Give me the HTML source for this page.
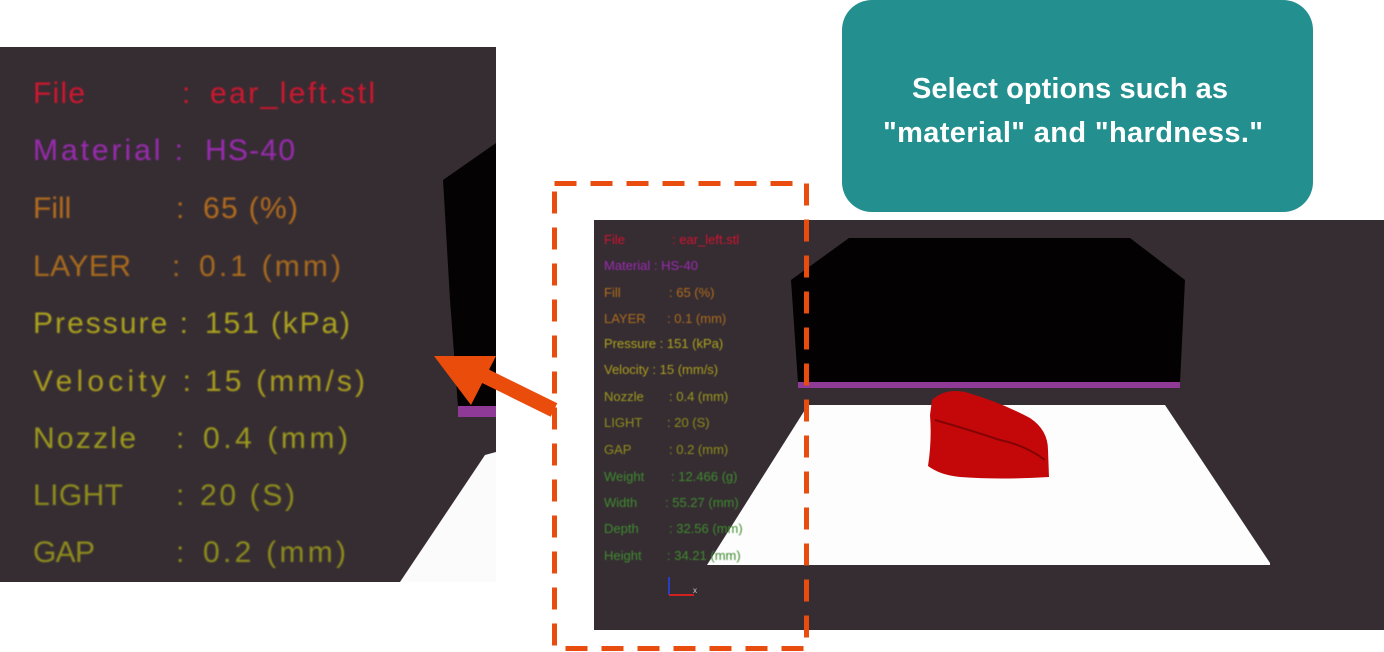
<!DOCTYPE html>
<html><head><meta charset="utf-8"><style>
html,body{margin:0;padding:0;background:#fff;width:1384px;height:652px;overflow:hidden}
svg{display:block}
</style></head><body>
<svg width="1384" height="652" viewBox="0 0 1384 652" xmlns="http://www.w3.org/2000/svg">
<defs><filter id="b" x="-5%" y="-20%" width="110%" height="140%"><feGaussianBlur stdDeviation="0.9"/></filter>
<filter id="b2" x="-5%" y="-20%" width="110%" height="140%"><feGaussianBlur stdDeviation="0.5"/></filter></defs>
<rect x="0" y="47" width="496" height="535" fill="#362d33"/>
<polygon points="443,180 496,143 496,407 458,407 450,300" fill="#050203"/>
<rect x="458" y="406" width="38" height="11" fill="#8f3a96"/>
<polygon points="400,582 485,455 496,452 496,582" fill="#fbfbfb"/>
<g font-family="Liberation Sans, sans-serif" font-size="30" filter="url(#b)">
<text x="33" y="103" fill="#d0142e" textLength="52">File</text><text x="182" y="103" fill="#d0142e">:</text><text x="210" y="103" fill="#d0142e" textLength="165">ear_left.stl</text>
<text x="33" y="160" fill="#9a2cb0" textLength="150">Material :</text><text x="205" y="160" fill="#9a2cb0" textLength="90">HS-40</text>
<text x="33" y="218" fill="#b26c1c">Fill</text><text x="176" y="218" fill="#b26c1c">:</text><text x="203" y="218" fill="#b26c1c" textLength="95">65 (%)</text>
<text x="33" y="276" fill="#a96a1e" textLength="98">LAYER</text><text x="172" y="276" fill="#a96a1e">:</text><text x="199" y="276" fill="#a96a1e" textLength="142">0.1 (mm)</text>
<text x="33" y="333" fill="#aba21e" textLength="155">Pressure :</text><text x="205" y="333" fill="#aba21e" textLength="145">151 (kPa)</text>
<text x="33" y="391" fill="#a99c1e" textLength="158">Velocity :</text><text x="205" y="391" fill="#a99c1e" textLength="160">15 (mm/s)</text>
<text x="33" y="448" fill="#9c9a1c" textLength="103">Nozzle</text><text x="176" y="448" fill="#9c9a1c">:</text><text x="203" y="448" fill="#9c9a1c" textLength="145">0.4 (mm)</text>
<text x="33" y="505" fill="#8e8c1a" textLength="90">LIGHT</text><text x="176" y="505" fill="#8e8c1a">:</text><text x="200" y="505" fill="#8e8c1a" textLength="95">20 (S)</text>
<text x="33" y="562" fill="#8e8c1a" textLength="62">GAP</text><text x="176" y="562" fill="#8e8c1a">:</text><text x="203" y="562" fill="#8e8c1a" textLength="143">0.2 (mm)</text>
</g>
<rect x="842" y="0" width="471" height="212" rx="30" fill="#238f8e"/>
<g font-family="Liberation Sans, sans-serif" font-size="29" font-weight="bold" fill="#fff" text-anchor="middle">
<text x="1070" y="98" textLength="316">Select options such as</text>
<text x="1073" y="142" textLength="380">"material" and "hardness."</text>
</g>
<rect x="594" y="220" width="790" height="410" fill="#362d33"/>
<polygon points="791,280 849,238 1130,238 1185,280 1180,383 798,383" fill="#030102"/>
<rect x="798" y="382" width="382" height="6" fill="#8f3a96"/>
<polygon points="808,405 1165,405 1270,563 1270,565 707,565" fill="#fdfdfd"/>
<path d="M932,400 Q945,388 965,392 Q1000,402 1030,418 Q1048,430 1048,450 L1049,477 Q1000,480 960,477 Q940,475 928,466 Q932,440 930,415 Z" fill="#c4080a"/>
<path d="M935,420 Q970,430 1000,440 Q1025,445 1045,460" stroke="#5a0000" stroke-width="2" fill="none" opacity=".6"/>
<g font-family="Liberation Sans, sans-serif" font-size="13" filter="url(#b2)">
<text x="604" y="244" fill="#d0142e">File</text><text x="672" y="244" fill="#d0142e">:  ear_left.stl</text>
<text x="604" y="270" fill="#9a2cb0">Material :  HS-40</text>
<text x="604" y="297" fill="#b26c1c">Fill</text><text x="669" y="297" fill="#b26c1c">:  65 (%)</text>
<text x="604" y="323" fill="#a96a1e">LAYER</text><text x="667" y="323" fill="#a96a1e">:  0.1 (mm)</text>
<text x="604" y="348" fill="#aba21e">Pressure :  151 (kPa)</text>
<text x="604" y="374" fill="#a99c1e">Velocity :  15 (mm/s)</text>
<text x="604" y="401" fill="#9c9a1c">Nozzle</text><text x="669" y="401" fill="#9c9a1c">:  0.4 (mm)</text>
<text x="604" y="427" fill="#8e8c1a">LIGHT</text><text x="667" y="427" fill="#8e8c1a">:  20 (S)</text>
<text x="604" y="454" fill="#8e8c1a">GAP</text><text x="669" y="454" fill="#8e8c1a">:  0.2 (mm)</text>
<text x="604" y="481" fill="#3e8a2e">Weight</text><text x="671" y="481" fill="#3e8a2e">:  12.466 (g)</text>
<text x="604" y="507" fill="#3e8a2e">Width</text><text x="665" y="507" fill="#3e8a2e">:  55.27 (mm)</text>
<text x="604" y="533" fill="#3e8a2e">Depth</text><text x="669" y="533" fill="#3e8a2e">:  32.56 (mm)</text>
<text x="604" y="560" fill="#3e8a2e">Height</text><text x="667" y="560" fill="#3e8a2e">:  34.21 (mm)</text>
</g>
<line x1="669" y1="595" x2="669" y2="577" stroke="#2a3fbf" stroke-width="2"/>
<line x1="669" y1="595" x2="694" y2="595" stroke="#d02020" stroke-width="2"/>
<text x="693" y="593" font-family="Liberation Sans, sans-serif" font-size="8" fill="#ccc">x</text>
<rect x="554.5" y="183.5" width="252" height="465" fill="none" stroke="#e84c0e" stroke-width="5" stroke-dasharray="22,14"/>
<line x1="554" y1="410" x2="485" y2="376" stroke="#ea4c0c" stroke-width="15"/>
<polygon points="434,356 496,356 471,405" fill="#ea4c0c"/>
</svg>
</body></html>
